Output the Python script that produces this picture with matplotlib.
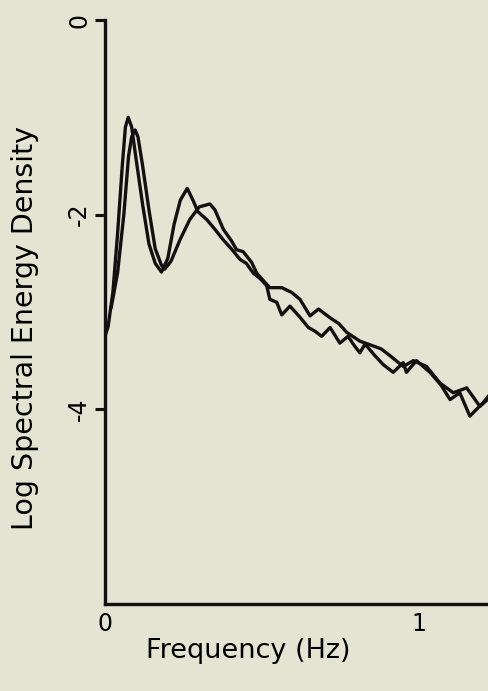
import matplotlib
matplotlib.use("Agg")
import matplotlib.pyplot as plt

# spectrum 1 (sharper first peak)
freq_a = [0, 0.01, 0.025, 0.04, 0.055, 0.065, 0.074, 0.085, 0.1, 0.12, 0.14, 0.16,
          0.18, 0.2, 0.22, 0.24, 0.262, 0.28, 0.296, 0.324, 0.35, 0.377, 0.405, 0.43,
          0.45, 0.472, 0.495, 0.515, 0.525, 0.547, 0.563, 0.589, 0.62, 0.648, 0.67,
          0.69, 0.717, 0.748, 0.774, 0.795, 0.812, 0.828, 0.86, 0.886, 0.918, 0.95,
          0.96, 0.992, 1.035, 1.07, 1.099, 1.13, 1.162, 1.205, 1.225]
logE_a = [-3.25, -3.15, -2.8, -2.2, -1.5, -1.1, -1.0, -1.1, -1.45, -1.9, -2.3, -2.5,
          -2.59, -2.45, -2.1, -1.85, -1.73, -1.85, -1.97, -2.05, -2.15, -2.26, -2.36, -2.46,
          -2.5, -2.6, -2.66, -2.73, -2.87, -2.9, -3.03, -2.94, -3.05, -3.16, -3.2,
          -3.25, -3.16, -3.32, -3.25, -3.35, -3.42, -3.33, -3.45, -3.54, -3.62, -3.52,
          -3.62, -3.5, -3.62, -3.75, -3.9, -3.83, -4.07, -3.93, -3.85]

# spectrum 2
freq_b = [0.02, 0.04, 0.06, 0.075, 0.085, 0.096, 0.105, 0.12, 0.14, 0.16, 0.18, 0.19,
          0.21, 0.24, 0.27, 0.3, 0.334, 0.35, 0.377, 0.403, 0.419, 0.44, 0.467, 0.483,
          0.505, 0.525, 0.563, 0.595, 0.621, 0.653, 0.68, 0.717, 0.745, 0.77, 0.812,
          0.855, 0.88, 0.908, 0.95, 0.982, 1.024, 1.067, 1.109, 1.152, 1.194, 1.225]
logE_b = [-2.95, -2.6, -2.0, -1.4, -1.2, -1.13, -1.2, -1.5, -1.95, -2.35, -2.52, -2.56,
          -2.48, -2.25, -2.05, -1.92, -1.89, -1.95, -2.15, -2.27, -2.36, -2.38, -2.49, -2.6,
          -2.68, -2.75, -2.75, -2.8, -2.87, -3.04, -2.97, -3.06, -3.12, -3.21, -3.3,
          -3.35, -3.38, -3.45, -3.56, -3.5, -3.56, -3.73, -3.83, -3.78, -3.97, -3.88]

yticks = [0, -2, -4]
xticks = [0, 1]

bg = "#e4e4d2"
ink = "#111111"

fig = plt.figure(figsize=(4.89, 6.91), dpi=100, facecolor=bg)
ax = fig.add_axes([0.2147, 0.126, 0.7853, 0.845], facecolor=bg)

ax.plot(freq_a, logE_a, color=ink, lw=2.4, solid_joinstyle="round")
ax.plot(freq_b, logE_b, color=ink, lw=2.4, solid_joinstyle="round")

ax.set_xlim(0, 1.223)
ax.set_ylim(-6, 0)
ax.spines["top"].set_visible(False)
ax.spines["right"].set_visible(False)
for s in ("left", "bottom"):
    ax.spines[s].set_linewidth(2.4)
    ax.spines[s].set_color(ink)

ax.set_yticks(yticks)
ax.set_yticklabels([str(t) for t in yticks], rotation=90, va="center", fontsize=17)
ax.set_xticks(xticks)
ax.set_xticklabels([str(t) for t in xticks], fontsize=17)
ax.tick_params(axis="y", length=7, width=2.2, color=ink, pad=3)
ax.tick_params(axis="x", length=0, pad=6)

ax.set_xlabel("Frequency (Hz)", fontsize=19.5, va="top")
ax.xaxis.set_label_coords(0.372, -0.058)
ax.set_ylabel("Log Spectral Energy Density", fontsize=20.5, va="center")
ax.yaxis.set_label_coords(-0.208, 0.473)

fig.savefig("out.png", dpi=100, facecolor=bg)
